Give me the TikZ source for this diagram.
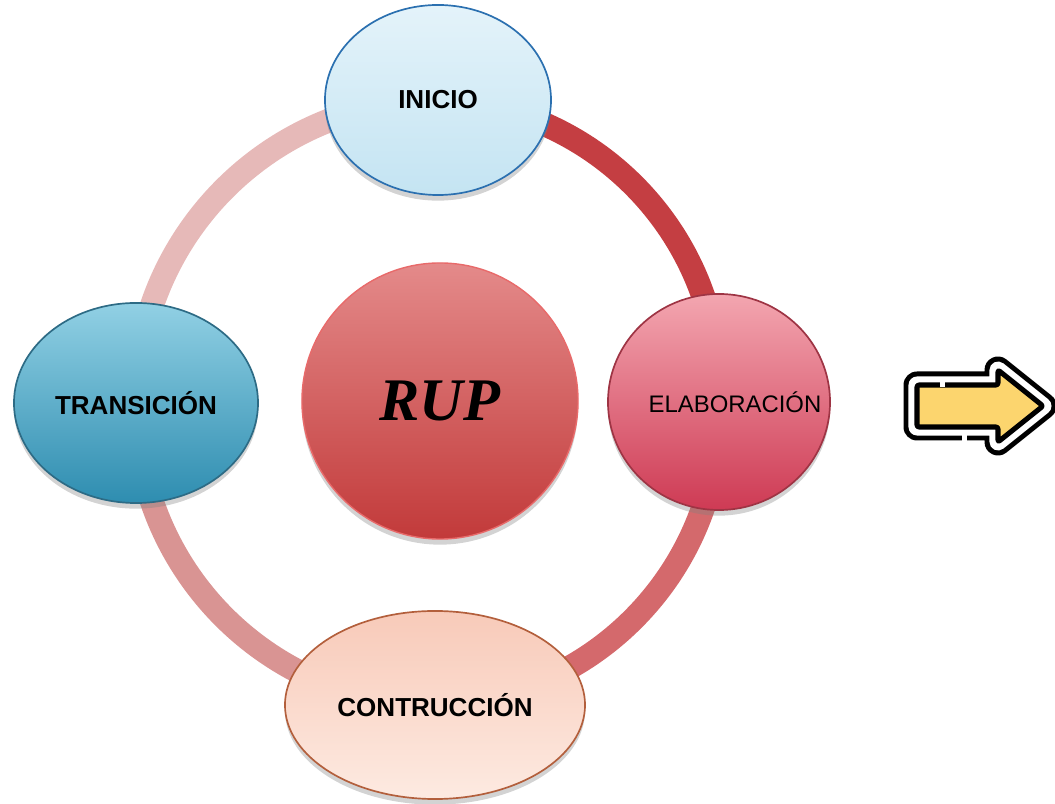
\documentclass[tikz,border=0pt]{standalone}
\usepackage{fontspec}
\setmainfont{Liberation Sans}
\newfontfamily\rupfont{Liberation Serif}
\usetikzlibrary{shapes.geometric,shadows,backgrounds}

\definecolor{segtl}{HTML}{E6B9B8}
\definecolor{segtr}{HTML}{C43E42}
\definecolor{segbr}{HTML}{D4696C}
\definecolor{segbl}{HTML}{D99493}
\definecolor{inicioline}{HTML}{2B70B0}
\definecolor{transline}{HTML}{2D6B85}
\definecolor{elabline}{HTML}{9E3444}
\definecolor{contline}{HTML}{B35F3C}
\definecolor{rupline}{HTML}{E86A6A}
\definecolor{flecha}{HTML}{FCD56E}

\begin{document}
\begin{tikzpicture}[x=0.025cm, y=0.025cm,
    phase/.style={ellipse, inner sep=0pt, line width=1.2pt,
      drop shadow={shadow xshift=0pt, shadow yshift=-4pt, opacity=0.35}},
    seg/.style={line width=17pt}]

      \useasboundingbox (0,0) rectangle (1055,804);

      \node[phase, draw=inicioline, minimum width=5.65cm, minimum height=4.75cm,
        top color={rgb,255:red,228;green,243;blue,250}, bottom color={rgb,255:red,196;green,228;blue,242}]
        (inicio) at (438,704) {\fontsize{18.5}{22}\selectfont\bfseries INICIO};
      \node[phase, draw=transline, minimum width=6.1cm, minimum height=5cm,
        top color={rgb,255:red,145;green,208;blue,228}, bottom color={rgb,255:red,46;green,141;blue,176}]
        (transicion) at (136,401) {\fontsize{18.5}{22}\selectfont\bfseries TRANSICIÓN};
      \node[phase, draw=elabline, minimum width=5.55cm, minimum height=5.4cm,
        top color={rgb,255:red,243;green,166;blue,176}, bottom color={rgb,255:red,206;green,58;blue,84}]
        (elaboracion) at (719,402) {\makebox[0pt]{\hspace{0.8cm}\fontsize{17}{20}\selectfont ELABORACIÓN}};
      \node[phase, draw=contline, minimum width=7.5cm, minimum height=4.7cm,
        top color={rgb,255:red,248;green,202;blue,185}, bottom color={rgb,255:red,253;green,234;blue,225}]
        (construccion) at (435,99) {\fontsize{18.5}{22}\selectfont\bfseries CONTRUCCIÓN};
      \node[phase, circle, draw=rupline, line width=1pt, minimum size=6.9cm,
        top color={rgb,255:red,228;green,138;blue,138}, bottom color={rgb,255:red,194;green,58;blue,58}]
        (rup) at (440,403) {\rupfont\fontsize{43}{50}\selectfont\bfseries\itshape RUP};

      % ring
      \begin{scope}[on background layer]
      \draw[seg, segtr] (inicio.center) to[bend left=45] (elaboracion.center);
      \draw[seg, segbr] (elaboracion.center) to[bend left=45] (construccion.center);
      \draw[seg, segbl] (construccion.center) to[bend left=45] (transicion.center);
      \draw[seg, segtl] (transicion.center) to[bend left=45] (inicio.center);
      \end{scope}

      % arrow
      \draw[line width=19.2pt, line join=round]
        (917,377) -- (917,419) -- (998,419) -- (998,434) -- (1043,398)
        -- (998,362) -- (998,377) -- cycle;
      \draw[white, line width=12.1pt, line join=round]
        (917,377) -- (917,419) -- (998,419) -- (998,434) -- (1043,398)
        -- (998,362) -- (998,377) -- cycle;
      \draw[line width=3.6pt, fill=flecha, line join=round, rounded corners=1.5pt]
        (917,377) -- (917,419) -- (998,419) -- (998,434) -- (1043,398)
        -- (998,362) -- (998,377) -- cycle;
      \fill[white] (940,416.6) rectangle (945,422);
      \fill[white] (962,363) rectangle (967,369.4);
    \end{tikzpicture}
\end{document}
